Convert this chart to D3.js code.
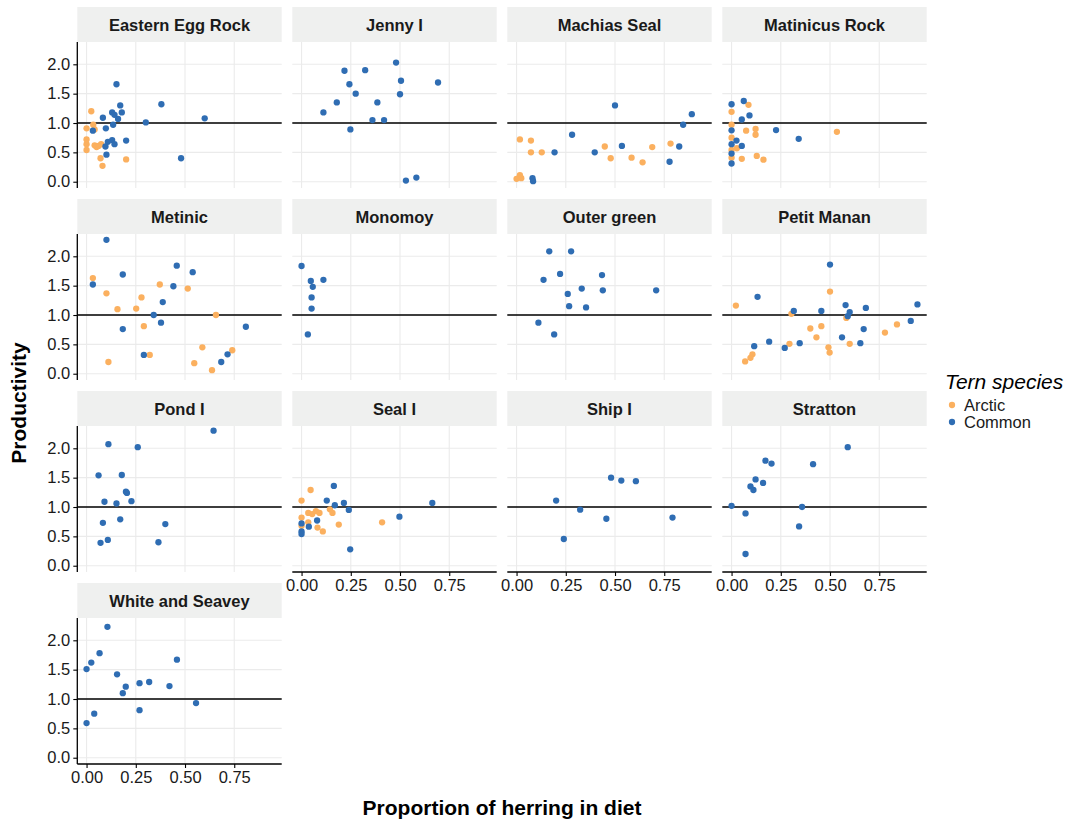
<!DOCTYPE html>
<html>
<head>
<meta charset="utf-8">
<script src="https://cdn.jsdelivr.net/npm/d3@7"></script>
<style>
  html, body { margin: 0; padding: 0; background: #fff; }
  svg { display: block; font-family: "Liberation Sans", Arial, Helvetica, sans-serif; }
</style>
</head>
<body>
<svg id="chart" width="1068" height="821"></svg>
<script>
// Colony panels, in facet order (4 columns)
const sites = [
  "Eastern Egg Rock", "Jenny I", "Machias Seal", "Matinicus Rock",
  "Metinic", "Monomoy", "Outer green", "Petit Manan",
  "Pond I", "Seal I", "Ship I", "Stratton",
  "White and Seavey"
];

const species = ["Arctic", "Common"];
const speciesColors = ["#fbb05f", "#2f6db3"];

const xTicks = [0, 0.25, 0.5, 0.75];
const yTicks = [0, 0.5, 1, 1.5, 2];
const xDomain = [-0.047, 0.991];
const yDomain = [-0.107, 2.38];
const referenceLevel = 1;

// [colony, proportion of herring in diet, productivity]
const arcticObs = [
  ["Eastern Egg Rock", 0.024, 1.20], ["Eastern Egg Rock", 0.034, 0.97], ["Eastern Egg Rock", 0.000, 0.91],
  ["Eastern Egg Rock", 0.041, 0.89], ["Eastern Egg Rock", 0.000, 0.72], ["Eastern Egg Rock", 0.000, 0.64],
  ["Eastern Egg Rock", 0.000, 0.54], ["Eastern Egg Rock", 0.041, 0.62], ["Eastern Egg Rock", 0.051, 0.59],
  ["Eastern Egg Rock", 0.074, 0.64], ["Eastern Egg Rock", 0.071, 0.40], ["Eastern Egg Rock", 0.081, 0.27],
  ["Eastern Egg Rock", 0.201, 0.38], ["Eastern Egg Rock", 0.061, 0.61],
  ["Machias Seal", 0.017, 0.72], ["Machias Seal", 0.073, 0.70], ["Machias Seal", 0.073, 0.50],
  ["Machias Seal", 0.128, 0.50], ["Machias Seal", 0.448, 0.60], ["Machias Seal", 0.478, 0.40],
  ["Machias Seal", 0.584, 0.41], ["Machias Seal", 0.640, 0.33], ["Machias Seal", 0.689, 0.59],
  ["Machias Seal", 0.782, 0.65], ["Machias Seal", 0.017, 0.11], ["Machias Seal", 0.000, 0.05],
  ["Machias Seal", 0.024, 0.06],
  ["Matinicus Rock", 0.086, 1.31], ["Matinicus Rock", 0.000, 1.19], ["Matinicus Rock", 0.000, 0.97],
  ["Matinicus Rock", 0.074, 0.87], ["Matinicus Rock", 0.122, 0.90], ["Matinicus Rock", 0.122, 0.80],
  ["Matinicus Rock", 0.535, 0.85], ["Matinicus Rock", 0.000, 0.75], ["Matinicus Rock", 0.027, 0.57],
  ["Matinicus Rock", 0.000, 0.54], ["Matinicus Rock", 0.000, 0.41], ["Matinicus Rock", 0.052, 0.39],
  ["Matinicus Rock", 0.128, 0.44], ["Matinicus Rock", 0.162, 0.375],
  ["Metinic", 0.032, 1.63], ["Metinic", 0.101, 1.37], ["Metinic", 0.372, 1.52], ["Metinic", 0.514, 1.45],
  ["Metinic", 0.279, 1.30], ["Metinic", 0.157, 1.10], ["Metinic", 0.252, 1.11], ["Metinic", 0.291, 0.81],
  ["Metinic", 0.657, 1.00], ["Metinic", 0.588, 0.45], ["Metinic", 0.740, 0.40], ["Metinic", 0.321, 0.32],
  ["Metinic", 0.111, 0.20], ["Metinic", 0.547, 0.18], ["Metinic", 0.637, 0.06],
  ["Petit Manan", 0.022, 1.16], ["Petit Manan", 0.500, 1.40], ["Petit Manan", 0.304, 1.02],
  ["Petit Manan", 0.583, 0.95], ["Petit Manan", 0.400, 0.77], ["Petit Manan", 0.456, 0.81],
  ["Petit Manan", 0.431, 0.62], ["Petit Manan", 0.779, 0.70], ["Petit Manan", 0.840, 0.84],
  ["Petit Manan", 0.294, 0.51], ["Petit Manan", 0.600, 0.51], ["Petit Manan", 0.492, 0.45],
  ["Petit Manan", 0.498, 0.36], ["Petit Manan", 0.106, 0.33], ["Petit Manan", 0.096, 0.27],
  ["Petit Manan", 0.069, 0.21],
  ["Seal I", 0.046, 1.29], ["Seal I", 0.000, 1.11], ["Seal I", 0.034, 0.90], ["Seal I", 0.054, 0.88],
  ["Seal I", 0.073, 0.93], ["Seal I", 0.091, 0.90], ["Seal I", 0.144, 0.96], ["Seal I", 0.157, 0.90],
  ["Seal I", 0.000, 0.82], ["Seal I", 0.034, 0.74], ["Seal I", 0.081, 0.65], ["Seal I", 0.108, 0.585],
  ["Seal I", 0.189, 0.70], ["Seal I", 0.409, 0.74], ["Seal I", 0.000, 0.68]
];

const commonObs = [
  ["Eastern Egg Rock", 0.152, 1.66], ["Eastern Egg Rock", 0.171, 1.30], ["Eastern Egg Rock", 0.179, 1.18],
  ["Eastern Egg Rock", 0.130, 1.18], ["Eastern Egg Rock", 0.142, 1.14], ["Eastern Egg Rock", 0.160, 1.07],
  ["Eastern Egg Rock", 0.083, 1.09], ["Eastern Egg Rock", 0.380, 1.32], ["Eastern Egg Rock", 0.301, 1.01],
  ["Eastern Egg Rock", 0.600, 1.08], ["Eastern Egg Rock", 0.135, 0.97], ["Eastern Egg Rock", 0.098, 0.91],
  ["Eastern Egg Rock", 0.032, 0.87], ["Eastern Egg Rock", 0.201, 0.70], ["Eastern Egg Rock", 0.130, 0.71],
  ["Eastern Egg Rock", 0.108, 0.68], ["Eastern Egg Rock", 0.142, 0.64], ["Eastern Egg Rock", 0.096, 0.60],
  ["Eastern Egg Rock", 0.101, 0.46], ["Eastern Egg Rock", 0.480, 0.40],
  ["Jenny I", 0.480, 2.03], ["Jenny I", 0.218, 1.89], ["Jenny I", 0.323, 1.90], ["Jenny I", 0.243, 1.66],
  ["Jenny I", 0.505, 1.72], ["Jenny I", 0.693, 1.69], ["Jenny I", 0.275, 1.50], ["Jenny I", 0.500, 1.49],
  ["Jenny I", 0.179, 1.35], ["Jenny I", 0.385, 1.35], ["Jenny I", 0.111, 1.18], ["Jenny I", 0.360, 1.05],
  ["Jenny I", 0.419, 1.05], ["Jenny I", 0.248, 0.89], ["Jenny I", 0.530, 0.02], ["Jenny I", 0.583, 0.07],
  ["Machias Seal", 0.500, 1.30], ["Machias Seal", 0.890, 1.15], ["Machias Seal", 0.846, 0.97],
  ["Machias Seal", 0.282, 0.80], ["Machias Seal", 0.193, 0.50], ["Machias Seal", 0.397, 0.50],
  ["Machias Seal", 0.535, 0.61], ["Machias Seal", 0.826, 0.60], ["Machias Seal", 0.777, 0.34],
  ["Machias Seal", 0.081, 0.06], ["Machias Seal", 0.084, 0.01],
  ["Matinicus Rock", 0.000, 1.32], ["Matinicus Rock", 0.062, 1.375], ["Matinicus Rock", 0.091, 1.13],
  ["Matinicus Rock", 0.052, 1.06], ["Matinicus Rock", 0.000, 0.875], ["Matinicus Rock", 0.226, 0.88],
  ["Matinicus Rock", 0.341, 0.73], ["Matinicus Rock", 0.025, 0.70], ["Matinicus Rock", 0.000, 0.64],
  ["Matinicus Rock", 0.052, 0.61], ["Matinicus Rock", 0.000, 0.48], ["Matinicus Rock", 0.000, 0.31],
  ["Metinic", 0.101, 2.28], ["Metinic", 0.184, 1.69], ["Metinic", 0.458, 1.84], ["Metinic", 0.539, 1.73],
  ["Metinic", 0.032, 1.52], ["Metinic", 0.441, 1.49], ["Metinic", 0.387, 1.22], ["Metinic", 0.341, 1.00],
  ["Metinic", 0.378, 0.87], ["Metinic", 0.184, 0.76], ["Metinic", 0.809, 0.80], ["Metinic", 0.291, 0.32],
  ["Metinic", 0.716, 0.33], ["Metinic", 0.684, 0.20],
  ["Monomoy", 0.000, 1.835], ["Monomoy", 0.047, 1.58], ["Monomoy", 0.111, 1.60], ["Monomoy", 0.057, 1.48],
  ["Monomoy", 0.051, 1.30], ["Monomoy", 0.051, 1.11], ["Monomoy", 0.032, 0.67],
  ["Outer green", 0.166, 2.085], ["Outer green", 0.277, 2.085], ["Outer green", 0.221, 1.70],
  ["Outer green", 0.137, 1.60], ["Outer green", 0.434, 1.68], ["Outer green", 0.331, 1.45],
  ["Outer green", 0.438, 1.42], ["Outer green", 0.709, 1.42], ["Outer green", 0.260, 1.36],
  ["Outer green", 0.267, 1.15], ["Outer green", 0.353, 1.13], ["Outer green", 0.111, 0.87],
  ["Outer green", 0.191, 0.67],
  ["Petit Manan", 0.500, 1.86], ["Petit Manan", 0.132, 1.31], ["Petit Manan", 0.579, 1.17],
  ["Petit Manan", 0.682, 1.12], ["Petit Manan", 0.944, 1.18], ["Petit Manan", 0.316, 1.07],
  ["Petit Manan", 0.456, 1.07], ["Petit Manan", 0.600, 1.05], ["Petit Manan", 0.590, 0.98],
  ["Petit Manan", 0.910, 0.90], ["Petit Manan", 0.671, 0.76], ["Petit Manan", 0.561, 0.62],
  ["Petit Manan", 0.191, 0.545], ["Petit Manan", 0.346, 0.52], ["Petit Manan", 0.654, 0.52],
  ["Petit Manan", 0.115, 0.47], ["Petit Manan", 0.270, 0.44],
  ["Pond I", 0.645, 2.30], ["Pond I", 0.111, 2.07], ["Pond I", 0.260, 2.02], ["Pond I", 0.061, 1.54],
  ["Pond I", 0.179, 1.545], ["Pond I", 0.200, 1.26], ["Pond I", 0.205, 1.24], ["Pond I", 0.228, 1.10],
  ["Pond I", 0.091, 1.09], ["Pond I", 0.152, 1.06], ["Pond I", 0.171, 0.79], ["Pond I", 0.083, 0.73],
  ["Pond I", 0.400, 0.71], ["Pond I", 0.108, 0.44], ["Pond I", 0.071, 0.39], ["Pond I", 0.365, 0.40],
  ["Seal I", 0.164, 1.36], ["Seal I", 0.128, 1.11], ["Seal I", 0.215, 1.07], ["Seal I", 0.664, 1.07],
  ["Seal I", 0.169, 1.03], ["Seal I", 0.240, 0.95], ["Seal I", 0.497, 0.835], ["Seal I", 0.079, 0.77],
  ["Seal I", 0.000, 0.72], ["Seal I", 0.037, 0.665], ["Seal I", 0.000, 0.585], ["Seal I", 0.000, 0.54],
  ["Seal I", 0.247, 0.28],
  ["Ship I", 0.201, 1.11], ["Ship I", 0.323, 0.955], ["Ship I", 0.456, 0.80], ["Ship I", 0.480, 1.50],
  ["Ship I", 0.532, 1.45], ["Ship I", 0.606, 1.44], ["Ship I", 0.792, 0.82], ["Ship I", 0.240, 0.455],
  ["Stratton", 0.000, 1.02], ["Stratton", 0.071, 0.89], ["Stratton", 0.071, 0.20], ["Stratton", 0.096, 1.35],
  ["Stratton", 0.111, 1.29], ["Stratton", 0.122, 1.47], ["Stratton", 0.160, 1.41], ["Stratton", 0.172, 1.79],
  ["Stratton", 0.203, 1.74], ["Stratton", 0.414, 1.73], ["Stratton", 0.590, 2.02], ["Stratton", 0.358, 1.00],
  ["Stratton", 0.343, 0.67],
  ["White and Seavey", 0.106, 2.23], ["White and Seavey", 0.066, 1.78], ["White and Seavey", 0.024, 1.62],
  ["White and Seavey", 0.000, 1.51], ["White and Seavey", 0.155, 1.42], ["White and Seavey", 0.459, 1.67],
  ["White and Seavey", 0.269, 1.27], ["White and Seavey", 0.318, 1.29], ["White and Seavey", 0.421, 1.22],
  ["White and Seavey", 0.199, 1.21], ["White and Seavey", 0.184, 1.10], ["White and Seavey", 0.556, 0.93],
  ["White and Seavey", 0.269, 0.81], ["White and Seavey", 0.039, 0.75], ["White and Seavey", 0.000, 0.59]
];

// ---- layout ----
const svg = d3.select("#chart");
const nCols = 4;
const panelLeft = 77.3, colStep = 215, panelW = 204.4;
const stripTop = 7, rowStep = 192, stripH = 35, panelH = 146;
const tickFont = 16.5, stripFont = 16.5, titleFont = 21;

const x = d3.scaleLinear().domain(xDomain).range([0, panelW]);
const y = d3.scaleLinear().domain(yDomain).range([panelH, 0]);
const color = d3.scaleOrdinal().domain(species).range(speciesColors);

const observations = [
  ...arcticObs.map(d => ({ site: d[0], herring: d[1], prod: d[2], species: "Arctic" })),
  ...commonObs.map(d => ({ site: d[0], herring: d[1], prod: d[2], species: "Common" }))
];

const nRows = Math.ceil(sites.length / nCols);

sites.forEach((site, i) => {
  const col = i % nCols, row = Math.floor(i / nCols);
  const px = panelLeft + col * colStep;
  const sy = stripTop + row * rowStep;
  const py = sy + stripH;

  // strip
  const strip = svg.append("g").attr("transform", `translate(${px},${sy})`);
  strip.append("rect").attr("width", panelW).attr("height", stripH).attr("fill", "#eff0ef");
  strip.append("text")
    .attr("x", panelW / 2).attr("y", stripH / 2 + 6)
    .attr("text-anchor", "middle")
    .attr("font-size", stripFont).attr("font-weight", "bold").attr("fill", "#1a1a1a")
    .text(site);

  const g = svg.append("g").attr("transform", `translate(${px},${py})`);

  // grid
  g.append("g").selectAll("line").data(yTicks).join("line")
    .attr("x1", 0).attr("x2", panelW)
    .attr("y1", d => y(d)).attr("y2", d => y(d))
    .attr("stroke", "#ebebeb").attr("stroke-width", 1.1);
  g.append("g").selectAll("line").data(xTicks).join("line")
    .attr("y1", 0).attr("y2", panelH)
    .attr("x1", d => x(d)).attr("x2", d => x(d))
    .attr("stroke", "#ebebeb").attr("stroke-width", 1.1);

  // reference line at productivity = 1
  g.append("line")
    .attr("x1", 0).attr("x2", panelW)
    .attr("y1", y(referenceLevel)).attr("y2", y(referenceLevel))
    .attr("stroke", "#000").attr("stroke-width", 1.3);

  // points (Arctic underneath, Common on top)
  g.append("g").selectAll("circle")
    .data(observations.filter(d => d.site === site))
    .join("circle")
    .attr("cx", d => x(d.herring)).attr("cy", d => y(d.prod))
    .attr("r", 3.15)
    .attr("fill", d => color(d.species));

  // y axis on first column
  if (col === 0) {
    const ya = g.append("g")
      .call(d3.axisLeft(y).tickValues(yTicks).tickFormat(d3.format(".1f")).tickSize(4).tickPadding(3));
    ya.select(".domain").attr("stroke", "#000").attr("stroke-width", 1.3).attr("d", `M0,0V${panelH}`);
    ya.selectAll(".tick line").attr("stroke", "#000").attr("stroke-width", 1.1);
    ya.selectAll(".tick text").attr("font-size", tickFont).attr("fill", "#1a1a1a")
      .attr("font-family", "Liberation Sans, Arial, sans-serif");
  }

  // x axis on the lowest panel of each column
  const lowest = (row + 1) * nCols + col >= sites.length;
  if (lowest) {
    const xa = g.append("g").attr("transform", `translate(0,${panelH})`)
      .call(d3.axisBottom(x).tickValues(xTicks).tickFormat(d3.format(".2f")).tickSize(4).tickPadding(3));
    xa.select(".domain").attr("stroke", "#000").attr("stroke-width", 1.3).attr("d", `M0,0H${panelW}`);
    xa.selectAll(".tick line").attr("stroke", "#000").attr("stroke-width", 1.1);
    xa.selectAll(".tick text").attr("font-size", tickFont).attr("fill", "#1a1a1a")
      .attr("font-family", "Liberation Sans, Arial, sans-serif");
  }
});

// axis titles
const plotBottom = stripTop + (nRows - 1) * rowStep + stripH + panelH;
svg.append("text")
  .attr("transform", `translate(26,${(stripTop + stripH + plotBottom) / 2}) rotate(-90)`)
  .attr("text-anchor", "middle")
  .attr("font-size", titleFont).attr("font-weight", "bold").attr("fill", "#000")
  .text("Productivity");
svg.append("text")
  .attr("x", panelLeft + (3 * colStep + panelW) / 2).attr("y", 815)
  .attr("text-anchor", "middle")
  .attr("font-size", titleFont).attr("font-weight", "bold").attr("fill", "#000")
  .text("Proportion of herring in diet");

// legend
const legend = svg.append("g").attr("transform", "translate(945,389)");
legend.append("text")
  .attr("x", 0).attr("y", 0)
  .attr("font-size", titleFont).attr("font-style", "italic").attr("fill", "#000")
  .text("Tern species");
species.forEach((s, i) => {
  const ly = 16 + i * 17;
  legend.append("circle").attr("cx", 7).attr("cy", ly).attr("r", 3.15).attr("fill", color(s));
  legend.append("text").attr("x", 19).attr("y", ly + 6)
    .attr("font-size", tickFont).attr("fill", "#1a1a1a").text(s);
});
</script>
</body>
</html>
